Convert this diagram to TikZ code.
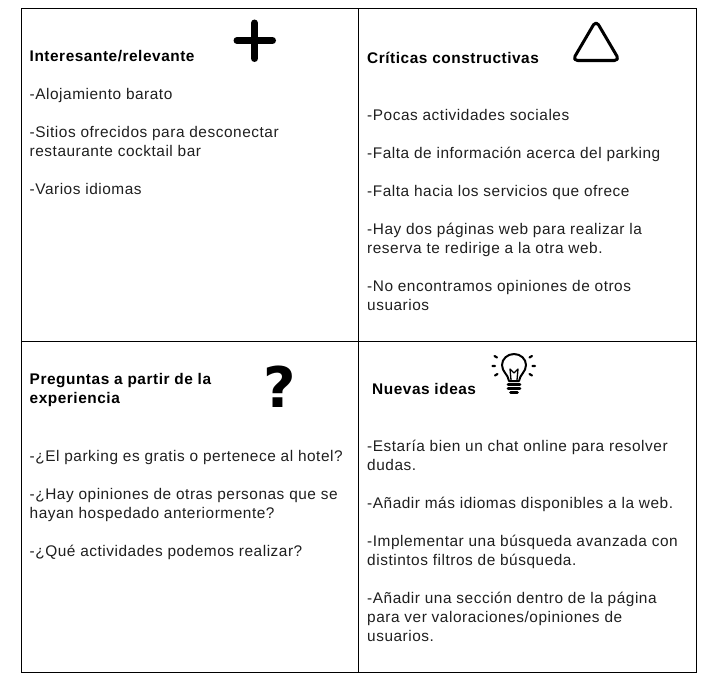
\documentclass[tikz,border=0pt]{standalone}
\usepackage{fontspec}
\setmainfont[LetterSpace=3.5]{Liberation Sans}
\newfontfamily\qfont{DejaVu Sans}
\tikzset{
 txt/.style={anchor=base west,inner sep=0pt,font=\fontsize{15.4}{17}\selectfont,text=black!88},
 hd/.style={anchor=base west,inner sep=0pt,font=\fontsize{15.4}{17}\selectfont\bfseries,text=black},
 grid/.style={draw=black,line width=1.1pt},
 icon/.style={draw=black,line cap=round,line join=round}
}
\begin{document}
\begin{tikzpicture}[x=1pt,y=-1pt]
\useasboundingbox (0,0) rectangle (714,685);
\fill[white] (0,0) rectangle (714,685);
\draw[grid] (21.5,8.5) rectangle (696.5,672.5);
\draw[grid] (358.5,8.5) -- (358.5,672.5);
\draw[grid] (21.5,341.5) -- (696.5,341.5);
% top left
\node[hd] (h1) at (29.5,61) {Interesante/relevante};
\node[txt] (a1) at (29.5,99) {-Alojamiento barato};
\node[txt] (a2) at (29.5,137) {-Sitios ofrecidos para desconectar};
\node[txt] (a3) at (29.5,156) {restaurante cocktail bar};
\node[txt] (a4) at (29.5,194) {-Varios idiomas};
\draw[icon,line width=7pt] (254.5,23) -- (254.5,58.5) (237,40.5) -- (272.5,40.5);
% top right
\node[hd] (h2) at (367,63.5) {Críticas constructivas};
\node[txt] (b1) at (367,120) {-Pocas actividades sociales};
\node[txt] (b2) at (367,158) {-Falta de información acerca del parking};
\node[txt] (b3) at (367,196) {-Falta hacia los servicios que ofrece};
\node[txt] (b4) at (367,234) {-Hay dos páginas web para realizar la};
\node[txt] (b5) at (367,253) {reserva te redirige a la otra web.};
\node[txt] (b6) at (367,291) {-No encontramos opiniones de otros};
\node[txt] (b7) at (367,310) {usuarios};
\draw[icon,line width=3pt,rounded corners=5pt] (596,20.5) -- (619.5,60.5) -- (572.5,60.5) -- cycle;
% bottom left
\node[hd] (h3) at (29.5,384) {Preguntas a partir de la};
\node[hd] (h4) at (29.5,403) {experiencia};
\node[anchor=base,inner sep=0pt,font=\qfont\fontsize{56}{60}\selectfont\bfseries] (q) at (280,407) {?};
\node[txt] (c1) at (29.5,461) {-¿El parking es gratis o pertenece al hotel?};
\node[txt] (c2) at (29.5,499) {-¿Hay opiniones de otras personas que se};
\node[txt] (c3) at (29.5,518) {hayan hospedado anteriormente?};
\node[txt] (c4) at (29.5,556) {-¿Qué actividades podemos realizar?};
% bottom right
\node[hd] (h5) at (372,394) {Nuevas ideas};
\node[txt] (d1) at (367,451) {-Estaría bien un chat online para resolver};
\node[txt] (d2) at (367,470) {dudas.};
\node[txt] (d3) at (367,508) {-Añadir más idiomas disponibles a la web.};
\node[txt] (d4) at (367,546) {-Implementar una búsqueda avanzada con};
\node[txt] (d5) at (367,565) {distintos filtros de búsqueda.};
\node[txt] (d6) at (367,603) {-Añadir una sección dentro de la página};
\node[txt] (d7) at (367,622) {para ver valoraciones/opiniones de};
\node[txt] (d8) at (367,641) {usuarios.};
% bulb
\draw[icon,line width=2pt] (509,381) .. controls (508,374) and (502,372) .. (502,365) arc (180:360:12 and 11) .. controls (526,372) and (520,374) .. (519,381) -- cycle;
\draw[icon,line width=1.3pt] (511,380) -- (510,369) (517,380) -- (518,369) (510,369) -- (514,373) -- (518,369);
\draw[icon,line width=2.6pt] (508,384.5) -- (520,384.5) (508,388.5) -- (520,388.5) (510.5,392.5) -- (517.5,392.5);
\draw[icon,line width=2.2pt] (494.5,356) -- (497,357.5) (532,356) -- (529.5,357.5) (492.5,366) -- (495,366) (535,366) -- (532.5,366) (495,375.5) -- (497.5,374) (532,375.5) -- (529.5,374);
\end{tikzpicture}
\end{document}
